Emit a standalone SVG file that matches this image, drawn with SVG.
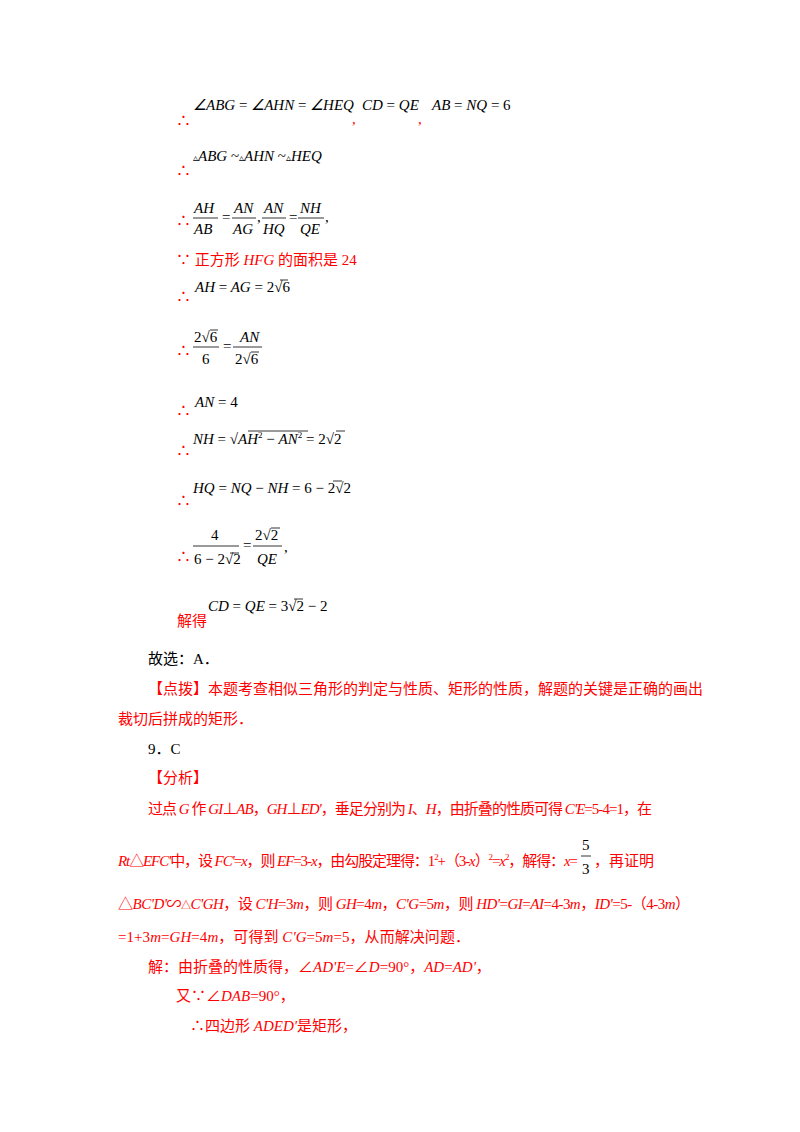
<svg xmlns="http://www.w3.org/2000/svg" width="800" height="1132" viewBox="0 0 800 1132">
<style>
.m{font-family:"Liberation Serif",serif;font-size:15px;font-style:italic;fill:#000}
.n{font-style:normal}
.r{font-family:"Liberation Serif","Noto Sans CJK SC",serif;font-size:15px;fill:#f00}
.k{font-family:"Liberation Serif","Noto Sans CJK SC",serif;font-size:15px;fill:#000}
.d{font-family:"Liberation Serif","Noto Sans CJK SC",serif;font-size:15px;fill:#f00}
.b{stroke:#000;stroke-width:0.8}
</style>
<rect width="800" height="1132" fill="#fff"/>
<text class="d" x="176" y="126">∴</text>
<text class="m" x="193" y="110">∠ABG<tspan class="n"> = </tspan>∠AHN<tspan class="n"> = </tspan>∠HEQ</text>
<text class="d" x="352" y="124">,</text>
<text class="m" x="362" y="110">CD <tspan class="n">=</tspan> QE</text>
<text class="d" x="418" y="124">,</text>
<text class="m" x="432" y="110">AB <tspan class="n">=</tspan> NQ <tspan class="n">= 6</tspan></text>

<text class="d" x="176" y="176">∴</text>
<text class="m" x="193" y="161"><tspan class="n" font-size="10">▵</tspan>ABG <tspan class="n">~</tspan><tspan class="n" font-size="10">▵</tspan>AHN <tspan class="n">~</tspan><tspan class="n" font-size="10">▵</tspan>HEQ</text>

<text class="d" x="176" y="226">∴</text>
<text class="m" x="194" y="213">AH</text><line class="b" x1="193" y1="218" x2="218" y2="218"/><text class="m" x="194" y="234">AB</text>
<text class="m n" x="222" y="222">=</text>
<text class="m" x="234" y="213">AN</text><line class="b" x1="232" y1="218" x2="256" y2="218"/><text class="m" x="233" y="234">AG</text>
<text class="m n" x="257" y="222">,</text>
<text class="m" x="264" y="213">AN</text><line class="b" x1="262" y1="218" x2="286" y2="218"/><text class="m" x="263" y="234">HQ</text>
<text class="m n" x="289" y="222">=</text>
<text class="m" x="300" y="213">NH</text><line class="b" x1="298" y1="218" x2="324" y2="218"/><text class="m" x="300" y="234">QE</text>
<text class="m n" x="325" y="222">,</text>

<text class="r" x="176" y="265">∵ 正方形 <tspan font-style="italic">HFG</tspan> 的面积是 24</text>

<text class="d" x="176" y="302">∴</text>
<text class="m" x="195" y="292">AH <tspan class="n">=</tspan> AG <tspan class="n">= 2√6</tspan></text>
<line class="b" x1="280" y1="280" x2="288" y2="280"/>

<text class="d" x="176" y="356">∴</text>
<text class="m n" x="194" y="342">2√6</text><line class="b" x1="210" y1="330" x2="218" y2="330"/>
<line class="b" x1="193" y1="347" x2="219" y2="347"/><text class="m n" x="202" y="364">6</text>
<text class="m n" x="223" y="351">=</text>
<text class="m" x="240" y="342">AN</text><line class="b" x1="233" y1="347" x2="262" y2="347"/><text class="m n" x="235" y="364">2√6</text><line class="b" x1="251" y1="352" x2="259" y2="352"/>

<text class="d" x="176" y="416">∴</text>
<text class="m" x="195" y="407">AN <tspan class="n">= 4</tspan></text>

<text class="d" x="176" y="456">∴</text>
<text class="m" x="193" y="444">NH <tspan class="n">= √</tspan>AH<tspan class="n" font-size="9" dy="-6">2</tspan><tspan class="n" dy="6"> − </tspan>AN<tspan class="n" font-size="9" dy="-6">2</tspan><tspan class="n" dy="6"> = 2√2</tspan></text>
<line class="b" x1="248" y1="431" x2="308" y2="431"/><line class="b" x1="336" y1="431" x2="345" y2="431"/>

<text class="d" x="176" y="506">∴</text>
<text class="m" x="193" y="493">HQ <tspan class="n">=</tspan> NQ <tspan class="n">−</tspan> NH <tspan class="n">= 6 − 2√2</tspan></text>
<line class="b" x1="333" y1="481" x2="342" y2="481"/>

<text class="d" x="176" y="562">∴</text>
<text class="m n" x="211" y="540">4</text>
<line class="b" x1="193" y1="546" x2="239" y2="546"/>
<text class="m n" x="194" y="564">6 − 2√2</text><line class="b" x1="230" y1="553" x2="239" y2="553"/>
<text class="m n" x="243" y="550">=</text>
<text class="m n" x="255" y="540">2√2</text><line class="b" x1="271" y1="528" x2="280" y2="528"/>
<line class="b" x1="253" y1="546" x2="282" y2="546"/>
<text class="m" x="257" y="564">QE</text>
<text class="m n" x="284" y="552">,</text>

<text class="r" x="177" y="626">解得</text>
<text class="m" x="208" y="611">CD <tspan class="n">=</tspan> QE <tspan class="n">= 3√2 − 2</tspan></text>
<line class="b" x1="294" y1="599" x2="303" y2="599"/>

<text class="k" x="148" y="664">故选：A．</text>
<text class="r" x="148" y="694">【点拨】本题考查相似三角形的判定与性质、矩形的性质，解题的关键是正确的画出</text>
<text class="r" x="118" y="724">裁切后拼成的矩形．</text>
<text class="k" x="148" y="754">9．C</text>
<text class="r" x="148" y="783">【分析】</text>
<text class="r" x="148" y="814" textLength="504" lengthAdjust="spacing">过点 <tspan font-style="italic">G</tspan> 作 <tspan font-style="italic">GI</tspan>⊥<tspan font-style="italic">AB</tspan>，<tspan font-style="italic">GH</tspan>⊥<tspan font-style="italic">ED'</tspan>，垂足分别为 <tspan font-style="italic">I</tspan>、<tspan font-style="italic">H</tspan>，由折叠的性质可得 <tspan font-style="italic">C'E</tspan>=5-4=1，在</text>
<text class="r" x="118" y="866" textLength="460" lengthAdjust="spacing"><tspan font-style="italic">Rt</tspan>△<tspan font-style="italic">EFC'</tspan>中，设 <tspan font-style="italic">FC'</tspan>=<tspan font-style="italic">x</tspan>，则 <tspan font-style="italic">EF</tspan>=3-<tspan font-style="italic">x</tspan>，由勾股定理得：1<tspan font-size="9" dy="-6">2</tspan><tspan dy="6">+（3-</tspan><tspan font-style="italic">x</tspan>）<tspan font-size="9" dy="-6">2</tspan><tspan dy="6">=</tspan><tspan font-style="italic">x</tspan><tspan font-size="9" dy="-6">2</tspan><tspan dy="6">，解得：</tspan><tspan font-style="italic">x</tspan>=</text>
<text class="k" x="582" y="850">5</text><line class="b" x1="581" y1="856" x2="591" y2="856"/><text class="k" x="582" y="874">3</text>
<text class="r" x="594" y="866">，再证明</text>
<text class="r" x="118" y="909" textLength="572" lengthAdjust="spacing">△<tspan font-style="italic">BC'D'</tspan>∽<tspan font-size="10">△</tspan><tspan font-style="italic">C'GH</tspan>，设 <tspan font-style="italic">C'H</tspan>=3<tspan font-style="italic">m</tspan>，则 <tspan font-style="italic">GH</tspan>=4<tspan font-style="italic">m</tspan>，<tspan font-style="italic">C'G</tspan>=5<tspan font-style="italic">m</tspan>，则 <tspan font-style="italic">HD'</tspan>=<tspan font-style="italic">GI</tspan>=<tspan font-style="italic">AI</tspan>=4-3<tspan font-style="italic">m</tspan>，<tspan font-style="italic">ID'</tspan>=5-（4-3<tspan font-style="italic">m</tspan>）</text>
<text class="r" x="118" y="942" textLength="352" lengthAdjust="spacing">=1+3<tspan font-style="italic">m</tspan>=<tspan font-style="italic">GH</tspan>=4<tspan font-style="italic">m</tspan>，可得到 <tspan font-style="italic">C'G</tspan>=5<tspan font-style="italic">m</tspan>=5，从而解决问题．</text>
<text class="r" x="148" y="972">解：由折叠的性质得，∠<tspan font-style="italic">AD'E</tspan>=∠<tspan font-style="italic">D</tspan>=90°，<tspan font-style="italic">AD</tspan>=<tspan font-style="italic">AD'</tspan>，</text>
<text class="r" x="176" y="1001">又∵∠<tspan font-style="italic">DAB</tspan>=90°，</text>
<text class="r" x="190" y="1031">∴四边形 <tspan font-style="italic">ADED'</tspan>是矩形，</text>
</svg>
